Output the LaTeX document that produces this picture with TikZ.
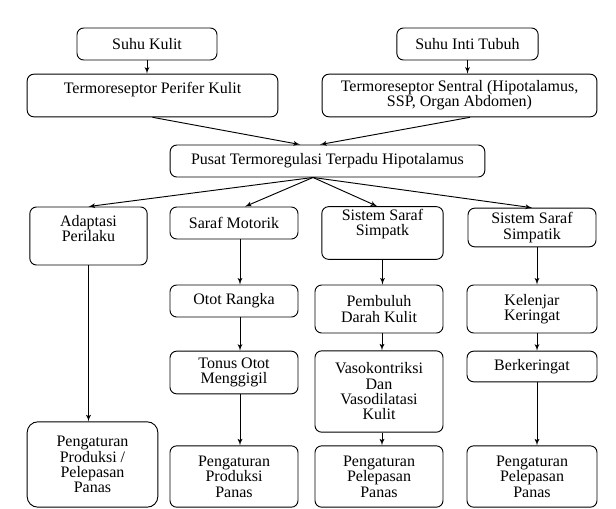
\documentclass[tikz,border=0pt]{standalone}
\usepackage{fontspec}
\setmainfont{Liberation Serif}
\usetikzlibrary{shapes,arrows,positioning}
\tikzstyle{block}    = [rectangle, draw, fill=white, text centered, align=center, rounded corners=5pt, inner sep=2pt, minimum width=96pt, minimum height=24pt, font=\fontsize{12}{11.5}\selectfont]
\tikzstyle{line}     = [draw, -latex']

\begin{document}
\begin{tikzpicture}[x=0.75pt, y=-0.75pt, line width=0.7pt]
	\useasboundingbox (0,0) rectangle (616,508);
	
		% Node Setting %
		
		% 0 =======================================%
		\node [block, minimum width=105pt] (kulit) at (147,44) {Suhu Kulit};
		\node [block, minimum width=106pt] (inti) at (467.5,44) {Suhu Inti Tubuh};
		% 1 =======================================%
		\node [block, minimum width=188pt, minimum height=32pt] (perifer) at (152.5,95.5) {Termoreseptor Perifer Kulit\\~};
		\node [block, minimum width=206pt, minimum height=32pt] (sentral) at (459.5,95.5) {Termoreseptor Sentral (Hipotalamus,\\SSP, Organ Abdomen)};
		% 2 =======================================%
		\node [block, minimum width=236pt] (pusat) at (327.5,161) {Pusat Termoregulasi Terpadu Hipotalamus};
		\coordinate (pusatout) at ([xshift=-10.9pt]pusat.south);
		% 3 =======================================%
		\node [block, minimum width=88pt, minimum height=43.5pt] (perilaku) at (88.5,236) {Adaptasi\\Perilaku\\~};
		\node [block] (motorik) at (234,223) {Saraf Motorik};
		\node [block, minimum width=91pt, minimum height=39pt] (simpatk) at (382.5,233) {Sistem Saraf\\Simpatk\\[4pt]~};
		\node [block, minimum height=29pt] (simpatik) at (532,227.5) {Sistem Saraf\\Simpatik};
		% 4 =======================================%
		\node [block] (otot) at (234,301) {Otot Rangka};
		\node [block, minimum height=36pt] (pembuluh) at (379,309) {Pembuluh\\Darah Kulit};
		\node [block, minimum width=97.5pt, minimum height=36pt] (kelenjar) at (532,309) {Kelenjar\\Keringat};
		% 5 =======================================%
		\node [block, minimum height=32pt] (tonus) at (234,372.5) {Tonus Otot\\Menggigil};
		\node [block, minimum height=61pt] (vaso) at (379,391.5) {Vasokontriksi\\Dan\\Vasodilatasi\\Kulit};
		\node [block, minimum width=97.5pt, minimum height=23pt] (keringat) at (532,366.5) {Berkeringat};
		% 6 =======================================%
		\node [block, minimum width=98pt, minimum height=64pt, rounded corners=8pt] (aturA) at (92.5,464.5) {Pengaturan\\Produksi /\\Pelepasan\\Panas};
		\node [block, minimum height=46pt] (aturB) at (234,476.5) {Pengaturan\\Produksi\\Panas};
		\node [block, minimum height=46pt] (aturC) at (379,476.5) {Pengaturan\\Pelepasan\\Panas};
		\node [block, minimum width=97.5pt, minimum height=46pt] (aturD) at (532,476.5) {Pengaturan\\Pelepasan\\Panas};
		%=========================================%
		
		% Connection %
		
		\path [line] (kulit.south)  -- (kulit.south |- perifer.north);
		\path [line] (inti.south)  -- (inti.south |- sentral.north);
		\path [line] (perifer.south)  -- ([xshift=-20.6pt]pusat.north);
		\path [line] ([xshift=7.9pt]sentral.south)  -- ([xshift=-5.6pt]pusat.north);
		\path [line] (pusatout)  -- (perilaku.north);
		\path [line] (pusatout)  -- ([xshift=8.25pt]motorik.north);
		\path [line] (pusatout)  -- ([xshift=-4pt]simpatk.north);
		\path [line] (pusatout)  -- (simpatik.north);
		\path [line] (perilaku.south)  -- (perilaku.south |- aturA.north);
		\path [line] ([xshift=4.5pt]motorik.south)  -- ([xshift=4.5pt]otot.north);
		\path [line] ([xshift=4.5pt]otot.south)  -- ([xshift=4.5pt]tonus.north);
		\path [line] ([xshift=4.5pt]tonus.south)  -- ([xshift=4.5pt]aturB.north);
		\path [line] (simpatk.south)  -- (simpatk.south |- pembuluh.north);
		\path [line] ([xshift=2.25pt]pembuluh.south)  -- ([xshift=2.25pt]vaso.north);
		\path [line] ([xshift=2.25pt]vaso.south)  -- ([xshift=2.25pt]aturC.north);
		\path [line] ([xshift=3.75pt]simpatik.south)  -- ([xshift=3.75pt]kelenjar.north);
		\path [line] ([xshift=3.75pt]kelenjar.south)  -- ([xshift=3.75pt]keringat.north);
		\path [line] ([xshift=3.75pt]keringat.south)  -- ([xshift=3.75pt]aturD.north);
	\end{tikzpicture}
\end{document}
